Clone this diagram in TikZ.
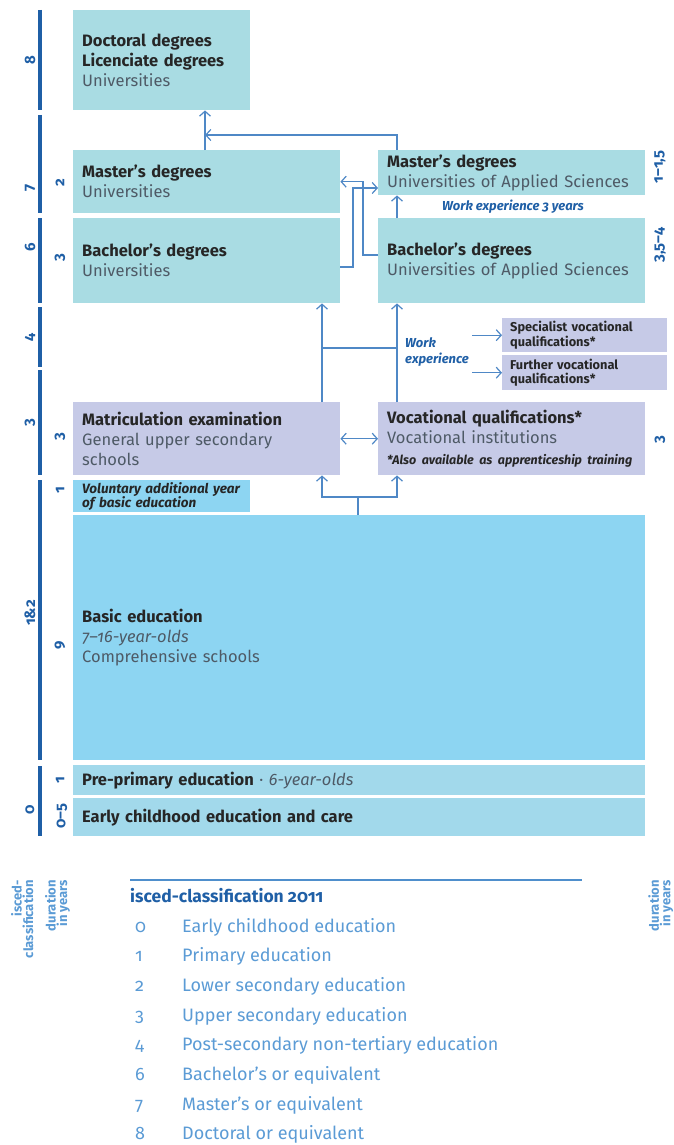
\documentclass[tikz,border=0pt]{standalone}
\usepackage{fontspec}
\setmainfont{Fira Sans}[Numbers=OldStyle]
\usetikzlibrary{arrows.meta,calc}

\definecolor{unic}{HTML}{A9DCE3}
\definecolor{vocc}{HTML}{C6CAE7}
\definecolor{basicc}{HTML}{8DD5F2}
\definecolor{prec}{HTML}{A2D9EB}
\definecolor{barc}{HTML}{1F5FA6}
\definecolor{arrc}{HTML}{4F88C6}
\definecolor{subc}{HTML}{4E5A66}
\definecolor{legc}{HTML}{5B9BD5}
\newcommand{\subt}[1]{{\color{subc}#1}}

\begin{document}
\begin{tikzpicture}[x=1pt, y=-1pt,
    >={Straight Barb[length=5pt,width=11pt]},
    box/.style={anchor=north west, rectangle, inner xsep=9pt, inner ysep=0pt, align=left,
                font=\fontsize{16.5}{20}\selectfont, text=black!85},
    ubox/.style={box, fill=unic},
    vbox/.style={box, fill=vocc},
    bbox/.style={box, fill=basicc},
    pbox/.style={box, fill=prec},
    smallbox/.style={vbox, inner xsep=8pt, font=\fontsize{12.8}{14.5}\selectfont\bfseries},
    flow/.style={->, draw=arrc, line width=1.2pt},
    both/.style={<->, draw=arrc, line width=1.2pt},
    link/.style={draw=arrc, line width=1.2pt},
    bar/.style={draw=barc, line width=4pt},
    isced/.style={rotate=90, text=barc, inner sep=0pt, font=\fontsize{15}{15}\selectfont\bfseries},
    wexp/.style={text=barc, inner sep=0pt, align=left, font=\fontsize{13}{16}\selectfont\bfseries\itshape},
    leg/.style={anchor=base west, inner sep=0pt, text=legc, font=\fontsize{18}{18}\selectfont},
    axis/.style={rotate=90, anchor=north east, inner sep=0pt, align=right, text=legc,
                 font=\fontsize{13}{11.5}\selectfont\bfseries}
]
\useasboundingbox (0,0) rectangle (674,1145);

% isced bars on the left
\foreach \a/\b/\ly/\lab in {10/110/60/8, 115/213/188/7, 218/303/247/6, 307/367/337/4,
                             370/475/423/3, 480/760/613/1\&2, 766/836/810/0}{
  \draw[bar] (40,\a) -- (40,\b);
  \node[isced] at (30,\ly) {\lab};
}

% universities
\node[ubox, text width=159pt, minimum height=100pt] (doc) at (73,10)
  {\textbf{Doctoral degrees}\\\textbf{Licenciate degrees}\\\subt{Universities}};
\node[ubox, text width=249pt, minimum height=63pt] (mastU) at (73,150)
  {\textbf{Master’s degrees}\\\subt{Universities}};
\node[ubox, text width=249pt, minimum height=85pt] (bachU) at (73,218)
  {\textbf{Bachelor’s degrees}\\\subt{Universities}};
\node[ubox, text width=249pt, minimum height=45pt] (mastA) at (378,150)
  {\textbf{Master’s degrees}\\\subt{Universities of Applied Sciences}};
\node[ubox, text width=249pt, minimum height=85pt] (bachA) at (378,218)
  {\textbf{Bachelor’s degrees}\\\subt{Universities of Applied Sciences}};
\node[wexp] (wx3) at (513,207) {Work experience 3 years};

% vocational and upper secondary
\node[smallbox, text width=149pt, minimum height=34pt] (spec) at (502,318)
  {Specialist vocational\\qualifications*};
\node[smallbox, text width=149pt, minimum height=35pt] (furt) at (502,355)
  {Further vocational\\qualifications*};
\node[wexp, anchor=west] (wx) at (405,352) {Work\\experience};
\node[vbox, text width=249pt, minimum height=73pt] (matric) at (73,402)
  {\textbf{Matriculation examination}\\\subt{General upper secondary}\\\subt{schools}};
\node[vbox, text width=249pt, minimum height=73pt] (voc) at (378,402)
  {\textbf{Vocational qualifications*}\\\subt{Vocational institutions}\\[1pt]
   {\fontsize{12.5}{13}\selectfont\bfseries\itshape *Also available as apprenticeship training}};

% basic and early education
\node[bbox, text width=159pt, minimum height=32pt, font=\fontsize{13.5}{14}\selectfont\bfseries\itshape] (vol) at (73,480)
  {Voluntary additional year\\of basic education};
\node[bbox, text width=554pt, minimum height=245pt] (basic) at (73,515)
  {\textbf{Basic education}\\\subt{\itshape 7–16-year-olds}\\\subt{Comprehensive schools}};
\node[pbox, text width=554pt, minimum height=30pt] (pre) at (73,765)
  {\textbf{Pre-primary education} \subt{· \itshape 6-year-olds}};
\node[pbox, text width=554pt, minimum height=38pt] (early) at (73,798)
  {\textbf{Early childhood education and care}};

% durations
\node[isced] at (60,183) {2};
\node[isced] at (60,258) {3};
\node[isced] at (60,437) {3};
\node[isced] at (60,490) {1};
\node[isced] at (60,645) {9};
\node[isced] at (60,780) {1};
\node[isced] at (62,816) {0–5};
\node[isced] at (660,167) {1–1,5};
\node[isced] at (660,245) {3,5–4};
\node[isced] at (660,440) {3};

% connectors
\coordinate (colA) at (322,0);
\coordinate (colB) at (397,0);
\coordinate (colD) at (205,0);
\coordinate (split) at (358,497);
\coordinate (tie) at (0,348);
\coordinate (top) at (0,135);
\coordinate (jogA) at (363,255);
\coordinate (jogB) at (353,267);
\coordinate (inA) at (0,188);
\draw[flow] (basic.north -| split) -- (split) -| (matric.south -| colA);
\draw[flow] (split) -| (voc.south -| colB);
\draw[both] (matric.east) -- (voc.west);
\draw[flow] (matric.north -| colA) -- (bachU.south -| colA);
\draw[flow] (voc.north -| colB) -- (bachA.south -| colB);
\draw[link] (colA |- tie) -- (colB |- tie);
\draw[flow] (spec.west -| wx.east) ++(3,0) -- (spec.west);
\draw[flow] (furt.west -| wx.east) ++(3,0) -- (furt.west);
\draw[flow] (bachA.north -| colB) -- (mastA.south -| colB);
\draw[flow] (mastA.north -| colB) |- (colD |- top);
\draw[flow] (mastU.north -| colD) -- (doc.south -| colD);
\draw[flow] (bachA.west |- jogA) -- (jogA) |- (mastU.east);
\draw[flow] (bachU.east |- jogB) -- (jogB) |- (mastA.west |- inA);

% legend
\node[axis] (ax1) at (11,880) {isced-\\classification};
\node[axis] (ax2) at (45,880) {duration\\in years};
\node[axis] (ax3) at (648,880) {duration\\in years};
\draw[draw=legc!80!barc, line width=1.5pt] (130,880) -- (582,880);
\node[leg, text=barc, font=\fontsize{17.5}{17.5}\selectfont\bfseries] (legt) at (130,902) {isced-classification 2011};
\foreach \n/\t [count=\i from 0] in {0/Early childhood education, 1/Primary education,
    2/Lower secondary education, 3/Upper secondary education,
    4/Post-secondary non-tertiary education, 6/Bachelor’s or equivalent,
    7/Master’s or equivalent, 8/Doctoral or equivalent}{
  \node[leg] at (135,932+29.7*\i) {\n};
  \node[leg] at (182,932+29.7*\i) {\t};
}
\end{tikzpicture}
\end{document}
